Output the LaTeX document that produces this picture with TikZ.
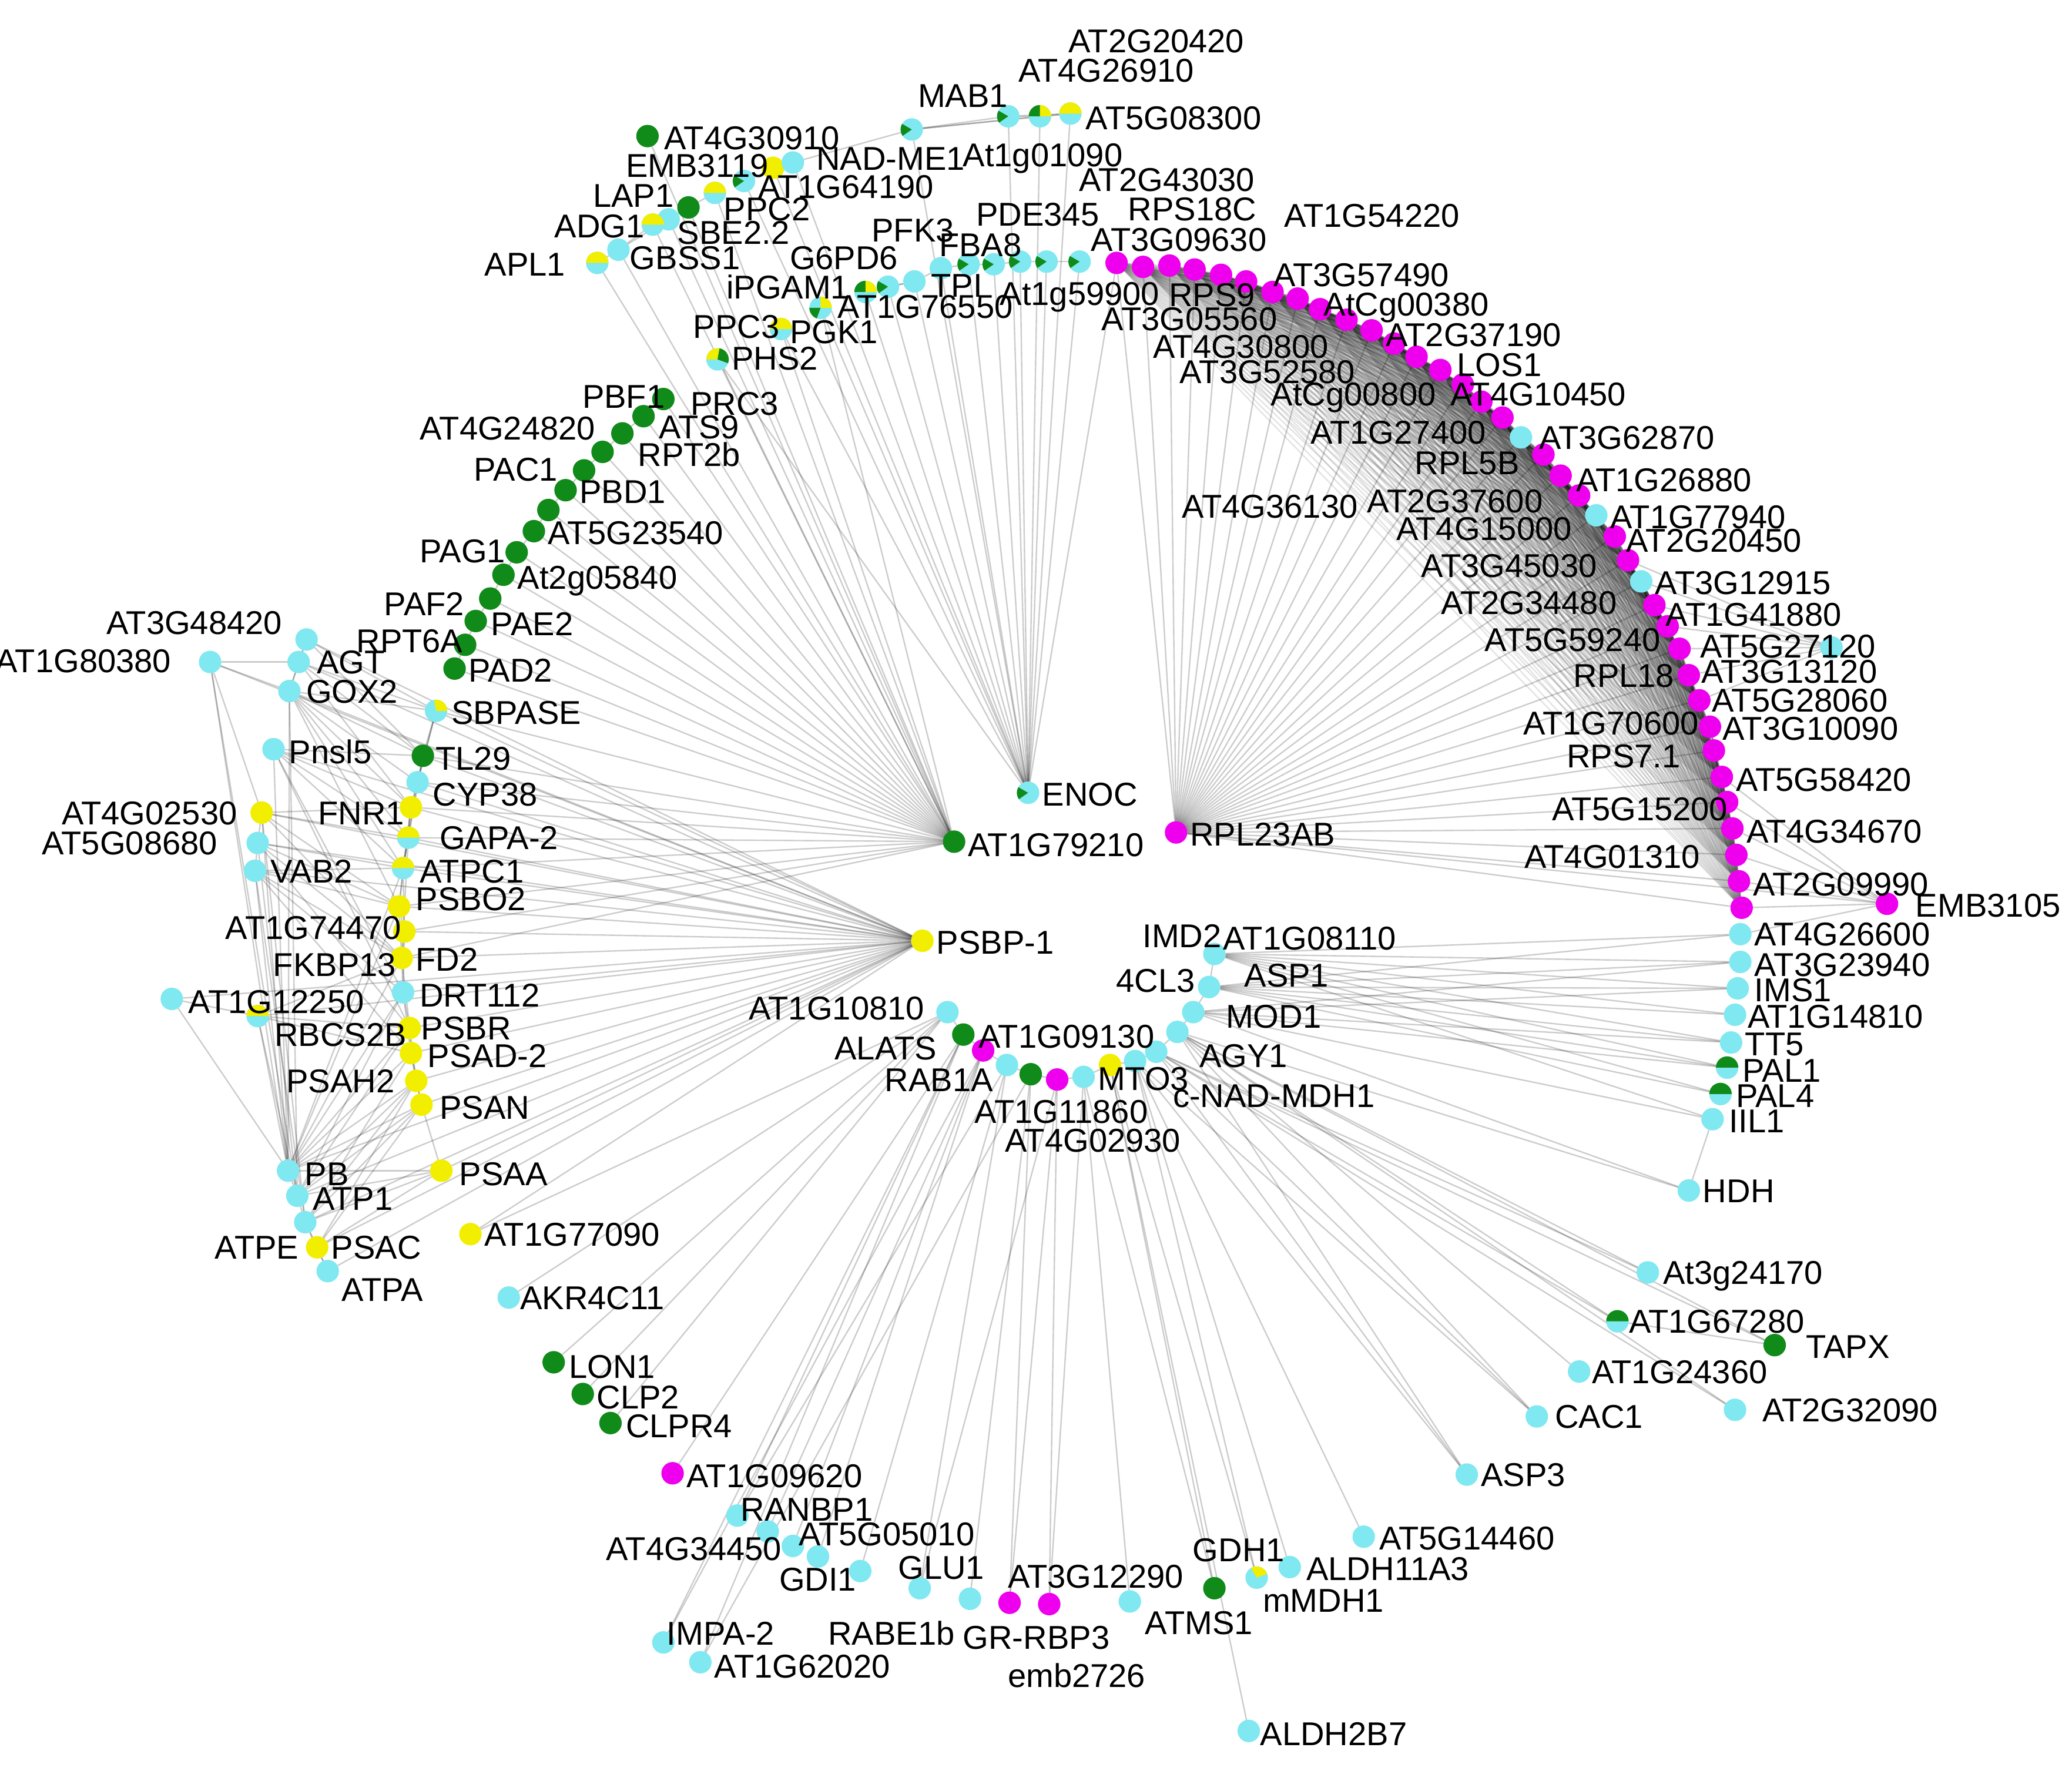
\documentclass[tikz,border=0pt]{standalone}
\usepackage{fontspec}
\setmainfont{Liberation Sans}
\usetikzlibrary{backgrounds}
\definecolor{cy}{RGB}{128,232,240}
\definecolor{mg}{RGB}{238,0,238}
\definecolor{gr}{RGB}{16,138,24}
\definecolor{yl}{RGB}{242,238,0}
\tikzset{
  gene/.style={circle, fill=#1, inner sep=0pt, outer sep=0pt, minimum size=0.17cm},
  lbl/.style={anchor=west, inner sep=0pt, font=\fontsize{7.1}{8}\selectfont, text height=5.1pt, text depth=0pt},
  link/.style={draw=black, draw opacity=0.2, line width=0.3pt},
  ribolink/.style={draw=black, draw opacity=0.11, line width=0.3pt}
}
% two-colour nodes
\newcommand{\halfcap}[2]{\fill[#2] (#1.east) arc[start angle=0,end angle=180,radius=0.085cm] -- cycle;}
\newcommand{\slice}[4]{\fill[#2] (#1.center) -- ++(#3:0.085cm) arc[start angle=#3,end angle=#4,radius=0.085cm] -- cycle;}
\begin{document}
\begin{tikzpicture}[x=0.01cm, y=-0.01cm]
\useasboundingbox (0,0) rectangle (1568,1340);

% hubs
\foreach \n/\x/\y/\c in {enoc/778/600/cy, at1g79210/722/637/gr, rpl23ab/890/630/mg, psbp/698/712/yl}
  \node[gene=\c] (\n) at (\x,\y) {};

% top cluster
\foreach \n/\x/\y/\c in {mab/690/98/cy, tA/763/88/cy, tB/787/88/cy, tC/810/86/cy,
    at4g30910/490/103/gr, emb3119/585/127/yl, nadme/600/123/cy, at1g64190/563/137/cy,
    lap1/541/146/cy, ppc2/521/157/gr, adg1/494/170/cy, sbe/506/166/cy, gbss1/468/189/cy,
    apl1/452/199/cy, ppc3/591/249/cy, phs2/543/272/cy, pgk1/621/233/cy, ipgam/655/221/cy,
    at1g76550/672/217/cy, tpi/692/213/cy, g6pd6/712/203/cy, pfk3/733/200/cy, fba8/752/200/cy,
    pde/772/198/cy, at1g59900/792/198/cy, at1g01090/817/198/cy}
  \node[gene=\c] (\n) at (\x,\y) {};

% ribosomal arc
\foreach \x/\y/\c [count=\i] in {845/199/mg, 865/202/mg, 885/201/mg, 904/204/mg, 924/208/mg,
    943/213/mg, 963/221/mg, 982/226/mg, 999/234/mg, 1019/242/mg, 1038/250/mg, 1055/260/mg,
    1072/270/mg, 1090/280/mg, 1107/291/mg, 1121/304/mg, 1137/316/mg, 1151/331/cy, 1168/344/mg,
    1181/360/mg, 1195/375/mg, 1208/390/cy, 1222/406/mg, 1232/424/mg, 1242/440/cy, 1252/458/mg,
    1262/474/mg, 1271/491/mg, 1278/511/mg, 1286/530/mg, 1294/550/mg, 1297/568/mg, 1303/588/mg,
    1307/607/mg, 1311/627/mg, 1314/647/mg, 1316/667/mg, 1318/687/mg}
  \node[gene=\c] (a\i) at (\x,\y) {};
\foreach \n/\x/\y/\c in {emb3105/1428/684/mg, at5g27120/1386/490/cy,
    at4g26600/1317/707/cy, at3g23940/1317/728/cy, ims1/1315/748/cy, at1g14810/1313/768/cy,
    tt5/1310/789/cy, pal1/1307/808/cy, pal4/1302/828/cy, iil1/1296/847/cy, hdh/1278/901/cy,
    at3g24170/1247/963/cy, at1g67280/1224/1000/cy, tapx/1343/1018/gr, at1g24360/1195/1038/cy,
    cac1/1163/1072/cy, at2g32090/1313/1067/cy, asp3/1110/1116/cy}
  \node[gene=\c] (\n) at (\x,\y) {};

% proteasome chain
\foreach \x/\y [count=\i] in {502/302, 487/315, 471/328, 456/342, 442/356, 428/371, 415/386,
    404/402, 391/418, 381/435, 371/453, 360/470, 352/488, 344/506}
  \node[gene=gr] (g\i) at (\x,\y) {};

% photosynthesis cluster
\foreach \n/\x/\y/\c in {at3g48420/232/484/cy, agt/226/501/cy, gox2/219/523/cy,
    at1g80380/159/501/cy, sbpase/330/538/cy, pnsl5/207/567/cy, tl29/320/572/gr, cyp38/316/592/cy,
    at4g02530/198/615/yl, fnr1/311/611/yl, gapa2/309/634/cy, at5g08680/195/638/cy,
    vab2/193/659/cy, atpc1/305/657/cy, psbo2/302/686/yl, at1g74470/306/705/yl, fd2/304/725/yl,
    drt112/305/751/cy, at1g12250/130/756/cy, rbcs2b/195/769/cy, psbr/310/778/yl,
    psad2/311/797/yl, psah2/315/818/yl, psan/319/836/yl, psaa/334/886/yl, pb/218/886/cy,
    atp1/225/905/cy, atpe/231/925/cy, psac/240/944/yl, atpa/248/962/cy,
    at1g77090/356/934/yl, akr4c11/385/982/cy}
  \node[gene=\c] (\n) at (\x,\y) {};

% centre ring
\foreach \n/\x/\y/\c in {at1g08110/919/722/cy, asp1/915/747/cy, mod1/903/766/cy, cD/891/781/cy,
    agy1/875/796/cy, cnad/859/803/cy, mto3/840/806/yl, cH/820/815/cy, at1g11860/800/817/mg,
    cJ/780/813/gr, cK/762/806/cy, rab1a/744/795/mg, at1g09130/729/783/gr, at1g10810/717/766/cy}
  \node[gene=\c] (\n) at (\x,\y) {};

% bottom
\foreach \n/\x/\y/\c in {lon1/419/1031/gr, clp2/441/1055/gr, clpr4/462/1077/gr,
    at1g09620/509/1115/mg, ranbp1/558/1147/cy, bB/581/1159/cy, at4g34450/600/1170/cy,
    at5g05010/619/1178/cy, gdi1/651/1189/cy, glu1/696/1202/cy, rabe1b/734/1210/cy,
    grrbp3/764/1213/mg, emb2726/794/1214/mg, at3g12290/855/1212/cy, atms1/919/1202/gr,
    mmdh1/951/1194/cy, aldh11a3/976/1186/cy, at5g14460/1032/1163/cy, impa2/502/1243/cy,
    at1g62020/530/1258/cy, aldh2b7/945/1310/cy}
  \node[gene=\c] (\n) at (\x,\y) {};

% mixed colours
\foreach \n in {tB, tC, lap1, adg1, apl1, ppc3, phs2, gapa2, atpc1, rbcs2b} {\halfcap{\n}{yl}}
\foreach \n in {pal1, pal4, at1g67280} {\halfcap{\n}{gr}}
\foreach \n in {mab, tA, enoc, at1g64190, pfk3, fba8, pde, at1g59900, at1g01090, at1g76550} {\slice{\n}{gr}{150}{215}}
\slice{tB}{gr}{90}{180}
\slice{phs2}{gr}{-20}{80}
\slice{pgk1}{gr}{180}{250}
\slice{pgk1}{yl}{0}{90}
\slice{ipgam}{gr}{90}{180}
\slice{ipgam}{yl}{0}{90}
\slice{sbpase}{yl}{0}{100}
\slice{mmdh1}{yl}{20}{120}

% labels
\foreach \x/\y/\t [count=\i] in {808/31/AT2G20420, 770/53/AT4G26910, 694/72/MAB1,
    821/89/AT5G08300, 502/104/AT4G30910, 617/120/NAD-ME1, 728/117/At1g01090, 473/125/EMB3119,
    573/141/AT1G64190, 816/136/AT2G43030, 448/148/LAP1, 547/158/PPC2, 738/162/PDE345,
    853/158/RPS18C, 419/171/ADG1, 512/176/SBE2.2, 659/174/PFK3, 710/185/FBA8, 825/181/AT3G09630,
    366/200/APL1, 476/195/GBSS1, 597/195/G6PD6, 549/217/iPGAM1, 704/216/TPI, 756/222/At1g59900,
    884/223/RPS9, 633/232/AT1G76550, 833/241/AT3G05560, 524/247/PPC3, 597/251/PGK1, 553/271/PHS2,
    971/163/AT1G54220, 963/208/AT3G57490, 1001/230/AtCg00380, 1048/253/AT2G37190, 1102/276/LOS1,
    1097/298/AT4G10450, 1164/331/AT3G62870, 1192/363/AT1G26880, 1218/391/AT1G77940,
    1230/409/AT2G20450, 872/262/AT4G30800, 892/281/AT3G52580, 961/298/AtCg00800,
    991/327/AT1G27400, 1070/350/RPL5B, 894/383/AT4G36130, 1034/379/AT2G37600, 1056/400/AT4G15000,
    1075/428/AT3G45030, 1252/441/AT3G12915, 1090/456/AT2G34480, 1260/465/AT1G41880,
    1123/484/AT5G59240, 1286/489/AT5G27120, 1190/511/RPL18, 1287/508/AT3G13120,
    1295/530/AT5G28060, 1152/547/AT1G70600, 1303/551/AT3G10090, 1185/572/RPS7.1,
    1313/590/AT5G58420, 1174/612/AT5G15200, 1321/629/AT4G34670, 1153/648/AT4G01310,
    1326/669/AT2G09990, 1449/685/EMB3105, 1327/707/AT4G26600, 1327/730/AT3G23940, 1327/749/IMS1,
    1322/769/AT1G14810, 1320/790/TT5, 1318/810/PAL1, 1313/829/PAL4, 1308/848/IIL1, 1288/901/HDH,
    1258/963/At3g24170, 1232/1000/AT1G67280, 1366/1019/TAPX, 1204/1038/AT1G24360,
    1176/1072/CAC1, 1333/1067/AT2G32090, 1120/1116/ASP3,
    440/300/PBF1, 522/305/PRC3, 317/324/AT4G24820, 498/323/ATS9, 482/344/RPT2b, 358/355/PAC1,
    438/372/PBD1, 414/403/AT5G23540, 317/417/PAG1, 391/437/At2g05840, 290/457/PAF2,
    371/472/PAE2, 269/485/RPT6A, 354/507/PAD2,
    80/471/AT3G48420, -4/500/AT1G80380, 239/501/AGT, 231/523/GOX2, 341/539/SBPASE,
    218/569/Pnsl5, 329/574/TL29, 327/601/CYP38, 46/615/AT4G02530, 240/615/FNR1,
    31/638/AT5G08680, 332/634/GAPA-2, 204/659/VAB2, 317/659/ATPC1, 314/680/PSBO2,
    170/702/AT1G74470, 206/730/FKBP13, 314/726/FD2, 317/753/DRT112, 142/758/AT1G12250,
    207/783/RBCS2B, 318/778/PSBR, 323/799/PSAD-2, 216/818/PSAH2, 332/838/PSAN, 230/888/PB,
    236/907/ATP1, 162/944/ATPE, 250/944/PSAC, 258/976/ATPA, 347/888/PSAA, 366/934/AT1G77090,
    393/982/AKR4C11,
    788/601/ENOC, 732/639/AT1G79210, 900/631/RPL23AB, 708/713/PSBP-1,
    864/708/IMD2, 925/710/AT1G08110, 844/742/4CL3, 941/738/ASP1, 566/763/AT1G10810,
    927/769/MOD1, 740/784/AT1G09130, 631/793/ALATS, 907/799/AGY1, 669/817/RAB1A, 830/816/MTO3,
    887/829/c-NAD-MDH1, 737/841/AT1G11860, 760/863/AT4G02930,
    430/1034/LON1, 451/1057/CLP2, 473/1079/CLPR4, 519/1117/AT1G09620, 560/1142/RANBP1,
    604/1161/AT5G05010, 458/1172/AT4G34450, 589/1195/GDI1, 679/1186/GLU1, 762/1193/AT3G12290,
    902/1173/GDH1, 988/1187/ALDH11A3, 1043/1164/AT5G14460, 955/1211/mMDH1, 504/1236/IMPA-2,
    540/1261/AT1G62020, 626/1236/RABE1b, 728/1239/GR-RBP3, 866/1228/ATMS1, 762/1268/emb2726,
    953/1312/ALDH2B7}
  \node[lbl] (lab\i) at (\x,\y) {\t};

\begin{scope}[on background layer]
  \fill[white] (0,0) rectangle (1568,1340);
  % ribosomal module
  \foreach \i in {1,...,38} {\draw[link] (rpl23ab) -- (a\i);}
  \foreach \i in {1,...,37} {
    \pgfmathtruncatemacro\m{\i+1}
    \foreach \k in {\m,...,38} {\draw[ribolink] (a\i) -- (a\k);}
  }
  \foreach \i in {24,...,30} {\draw[link] (at5g27120) -- (a\i);}
  \foreach \i in {33,...,38} {\draw[link] (emb3105) -- (a\i);}
  \draw[link] (emb3105) -- (rpl23ab);
  % proteasome module
  \foreach \i in {1,...,14} {\draw[link] (at1g79210) -- (g\i);}
  \foreach \i [count=\k from 2] in {1,...,13} {\draw[link] (g\i) -- (g\k);}
  % other connections
  \foreach \s/\tl in {
      enoc/{tA,tB,tC,mab,at1g01090,at1g59900,pde,fba8,pfk3,g6pd6,tpi,at1g76550,ipgam,pgk1,ppc3,phs2,nadme,emb3119,at1g64190,a1},
      at1g79210/{apl1,gbss1,adg1,sbe,lap1,ppc2,at4g30910,phs2,ppc3,pgk1,sbpase,tl29,cyp38,fnr1,gapa2,atpc1,psbo2,at1g74470,fd2},
      mab/{tA,tB,tC,nadme}, tA/{tB,tC}, tB/{tC}, nadme/{emb3119,at1g64190},
      g6pd6/{tpi,pfk3}, tpi/{at1g76550,ipgam}, fba8/{pde,pfk3}, at1g59900/{pde,at1g01090},
      apl1/{gbss1}, gbss1/{sbe,adg1}, ppc2/{lap1,sbe},
      psbp/{sbpase,tl29,cyp38,fnr1,gapa2,atpc1,psbo2,at1g74470,fd2,drt112,psbr,psad2,psah2,psan,psaa,psac,pb,atp1,atpe,atpa,at1g77090,gox2,agt,at3g48420,at4g02530,vab2,at5g08680,rbcs2b,pnsl5,at1g12250,at1g80380},
      at1g80380/{gox2,agt,pb,atp1,at4g02530}, gox2/{sbpase,tl29,cyp38,fnr1,gapa2,atpc1,pb,atp1,psbo2},
      agt/{sbpase,gox2,tl29,at3g48420,fnr1}, at3g48420/{sbpase,gox2,tl29},
      pnsl5/{fnr1,tl29,atpc1,drt112,pb,gapa2,psbr}, at4g02530/{fnr1,gapa2,pb,atpe,at5g08680,psbo2,fd2},
      at5g08680/{atpc1,psbo2,atp1,vab2,fd2,psbr}, vab2/{atpc1,psbo2,fd2,pb,atpe,drt112,psad2},
      at1g12250/{rbcs2b,pb}, rbcs2b/{psbr,fd2,pb,atp1,psad2},
      pb/{psaa,psan,psah2,psad2,psbr,fd2,atpc1,atp1,drt112,psbo2}, atp1/{psaa,psan,psbr,drt112,atpe,psah2},
      atpe/{psaa,psad2,psah2,atpa,psac,psan}, psac/{psaa,psan,psah2,atpa}, psan/{psaa,psah2},
      sbpase/{tl29,cyp38,fnr1}, tl29/{cyp38,gapa2}, cyp38/{fnr1,atpc1}, fnr1/{gapa2,psbo2,atpc1},
      gapa2/{atpc1,fd2}, atpc1/{psbo2,at1g74470}, psbo2/{at1g74470,fd2}, at1g74470/{fd2,drt112},
      fd2/{drt112,psbr}, drt112/{psbr,psad2}, psbr/{psad2,psah2}, psad2/{psah2,psan},
      at1g08110/{asp1,at4g26600,at3g23940,ims1,at1g14810,tt5,pal1,pal4,iil1},
      asp1/{mod1,at4g26600,at3g23940,ims1,at1g14810,tt5,pal1,pal4},
      mod1/{cD,at3g23940,ims1,tt5,pal1,iil1,hdh},
      cD/{agy1,hdh,at3g24170,at1g67280,at1g24360,cac1,asp3,at2g32090,tapx},
      agy1/{cnad,at3g24170,at1g67280,tapx,at2g32090,cac1,asp3},
      cnad/{mto3,asp3,cac1,at5g14460,aldh11a3,mmdh1},
      mto3/{cH,aldh2b7,atms1,mmdh1}, cH/{at1g11860,at3g12290,atms1,emb2726},
      at1g11860/{cJ,grrbp3,emb2726,glu1}, cJ/{cK,rabe1b,grrbp3,at1g62020},
      cK/{rab1a,gdi1,glu1,ranbp1}, rab1a/{at1g09130,bB,at4g34450,at5g05010,impa2},
      at1g09130/{at1g10810,at1g09620,impa2,at1g62020,ranbp1},
      at1g10810/{lon1,clp2,clpr4,akr4c11,at1g77090},
      iil1/{hdh}, at1g67280/{tapx}, emb3105/{at4g26600}} {
    \foreach \t in \tl {\draw[link] (\s) -- (\t);}
  }
\end{scope}
\end{tikzpicture}
\end{document}
